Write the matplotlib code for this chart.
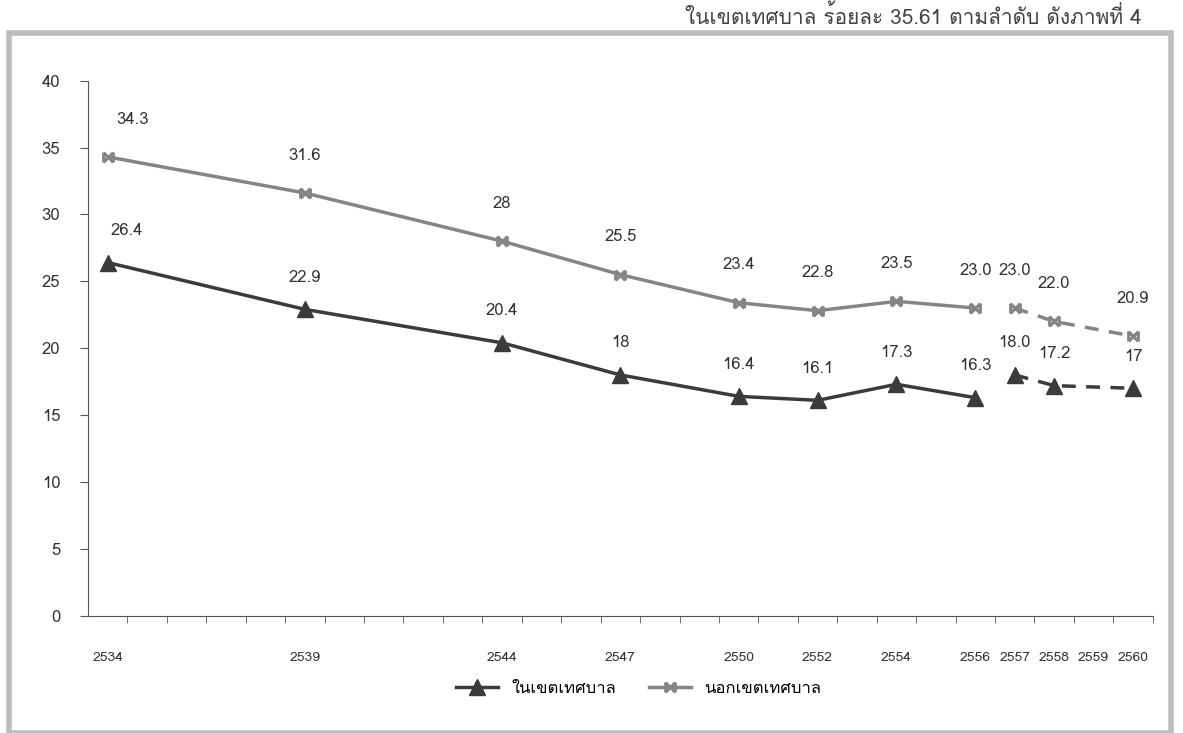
import numpy as np
import matplotlib
matplotlib.use("Agg")
import matplotlib.pyplot as plt
from matplotlib import font_manager
from matplotlib.ft2font import FT2Font
from matplotlib.path import Path
from matplotlib.patches import Rectangle

# find a font that has Thai glyphs
thai_font = None
for f in font_manager.fontManager.ttflist:
    try:
        if ord("ใ") in FT2Font(f.fname).get_charmap():
            thai_font = f.name
            break
    except Exception:
        pass
families = [thai_font, "DejaVu Sans"] if thai_font else ["DejaVu Sans"]
plt.rcParams["font.family"] = families

years = [2534, 2539, 2544, 2547, 2550, 2552, 2554, 2556, 2557, 2558, 2559, 2560]
in_years = [2534, 2539, 2544, 2547, 2550, 2552, 2554, 2556]
in_vals = [26.4, 22.9, 20.4, 18.0, 16.4, 16.1, 17.3, 16.3]
in_labels = ["26.4", "22.9", "20.4", "18", "16.4", "16.1", "17.3", "16.3"]
in_years_dash = [2557, 2558, 2560]
in_vals_dash = [18.0, 17.2, 17.0]
in_labels_dash = ["18.0", "17.2", "17"]

out_years = [2534, 2539, 2544, 2547, 2550, 2552, 2554, 2556]
out_vals = [34.3, 31.6, 28.0, 25.5, 23.4, 22.8, 23.5, 23.0]
out_labels = ["34.3", "31.6", "28", "25.5", "23.4", "22.8", "23.5", "23.0"]
out_years_dash = [2557, 2558, 2560]
out_vals_dash = [23.0, 22.0, 20.9]
out_labels_dash = ["23.0", "22.0", "20.9"]

dark = "#3b3b3b"
gray = "#858585"

bowtie = Path([(-1, -1), (1, 1), (-1, 1), (1, -1), (-1, -1), (-1, 1), (1, -1), (1, 1)],
              [Path.MOVETO, Path.LINETO, Path.MOVETO, Path.LINETO,
               Path.MOVETO, Path.LINETO, Path.MOVETO, Path.LINETO])

fig = plt.figure(figsize=(11.83, 7.33), dpi=100)
ax = fig.add_axes([0.0744, 0.16, 0.90, 0.73])

ax.plot(out_years, out_vals, color=gray, lw=2.5, marker=bowtie, ms=7, mew=2.2, label="นอกเขตเทศบาล")
ax.plot(out_years_dash, out_vals_dash, color=gray, lw=2.5, ls=(0, (4, 3)), marker=bowtie, ms=7, mew=2.2)
ax.plot(in_years, in_vals, color=dark, lw=2.5, marker="^", ms=12, label="ในเขตเทศบาล")
ax.plot(in_years_dash, in_vals_dash, color=dark, lw=2.5, ls=(0, (4, 3)), marker="^", ms=12)

for x, y, t in zip(out_years + out_years_dash, out_vals + out_vals_dash, out_labels + out_labels_dash):
    dx = 18 if x == 2534 else 0
    ax.annotate(t, (x, y), xytext=(dx, 24), textcoords="offset points", ha="center",
                fontsize=12, color="#333333")
for x, y, t in zip(in_years + in_years_dash, in_vals + in_vals_dash, in_labels + in_labels_dash):
    dx = 14 if x == 2534 else 0
    ax.annotate(t, (x, y), xytext=(dx, 20), textcoords="offset points", ha="center",
                fontsize=12, color="#333333")

ax.set_xlim(2533.5, 2560.5)
ax.set_ylim(0, 40)
ax.set_yticks(range(0, 41, 5))
ax.set_xticks(years)
ax.set_xticklabels([str(y) for y in years], fontsize=10, color="#333333")
ax.set_xticks(np.arange(2534.5, 2560.6, 1), minor=True)
ax.tick_params(axis="x", which="major", length=0, pad=26)
ax.tick_params(axis="x", which="minor", length=5, direction="out", color="#555555")
ax.tick_params(axis="y", labelsize=12, length=6, direction="out", color="#555555", labelcolor="#333333", pad=14)
for s in ["top", "right"]:
    ax.spines[s].set_visible(False)
ax.spines["left"].set_color("#555555")
ax.spines["bottom"].set_color("#555555")

handles, labels = ax.get_legend_handles_labels()
fig.legend(handles[::-1], labels[::-1], loc="center", bbox_to_anchor=(0.54, 0.06), ncol=2,
           frameon=False, fontsize=12, handlelength=2.5, columnspacing=2.0)

# chart frame and page text above it
fig.patches.append(Rectangle((0.008, 0.0), 0.982, 0.955, transform=fig.transFigure,
                             fill=False, edgecolor="#bdbdbd", lw=4))
fig.text(0.965, 0.978, "ในเขตเทศบาล ร้อยละ 35.61 ตามลำดับ ดังภาพที่ 4", ha="right", va="center",
         fontsize=15, color="#444444")

fig.savefig("out.png", dpi=100)
